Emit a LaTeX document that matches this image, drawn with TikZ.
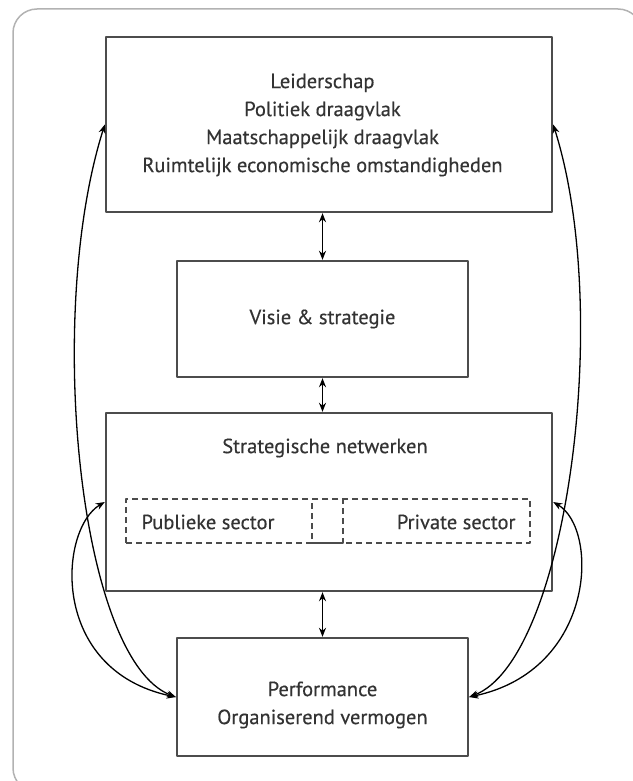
\documentclass[tikz,border=0pt]{standalone}
\usepackage{fontspec}
\setmainfont{PT Sans}
\newfontfamily\labelfont[FakeBold=0.4]{PT Sans}
\usetikzlibrary{arrows.meta}
\begin{document}
\begin{tikzpicture}[x=1pt,y=-1pt,line join=round,line cap=round,>={Stealth[length=9pt,width=7pt]}]
	\tikzset{every node/.style={font=\labelfont\fontsize{20.5}{28}\selectfont,text=black!80},
		box/.style={draw=black!70,line width=2.4pt,inner sep=0pt,align=center},
		sector/.style={draw=black!70,line width=1.6pt,dash pattern=on 6pt off 4pt,line cap=butt},
		link/.style={<->,line width=1.3pt,black}}
	\useasboundingbox (0,0) rectangle (632,781);
	\draw[black!30,line width=1.5pt,rounded corners=24pt] (13,9) rectangle (642,792);
	\node[box,minimum width=446pt,minimum height=175pt] (lead) at (329,124.5) {};
	\node[align=center] (leadtext) at (322.5,125) {Leiderschap\\Politiek draagvlak\\Maatschappelijk draagvlak\\Ruimtelijk economische omstandigheden};
	\node[box,minimum width=291pt,minimum height=116pt] (visie) at (322.5,319) {Visie \& strategie};
	\node[box,minimum width=446pt,minimum height=178pt] (netw) at (329,502) {};
	\node (title) at (325,448) {Strategische netwerken};
	\node[sector,minimum width=404pt,minimum height=44pt] (sect) at (328,521) {};
	\node[sector,minimum width=31pt,minimum height=44pt] (mid) at (327.5,521) {};
	\node[anchor=west] (publ) at (138,522) {Publieke sector};
	\node[anchor=east] (priv) at (519,522) {Private sector};
	\node[box,minimum width=291pt,minimum height=118pt] (perf) at (322.5,697) {};
	\node[align=center] (perftext) at (322.5,705) {Performance\\Organiserend vermogen};
	\draw[link] (visie.north) -- (visie.north |- lead.south);
	\draw[link] (visie.south) -- (visie.south |- netw.north);
	\draw[link] (perf.north) -- (perf.north |- netw.south);
	\draw[link] (lead.west) .. controls +(-60,190) and +(-97,-37) .. (perf.west);
	\draw[link] (netw.west) .. controls +(-46,27) and +(-127,-27) .. (perf.west);
	\draw[link] (lead.east) .. controls +(60,190) and +(97,-37) .. (perf.east);
	\draw[link] (netw.east) .. controls +(46,27) and +(127,-27) .. (perf.east);
\end{tikzpicture}
\end{document}
